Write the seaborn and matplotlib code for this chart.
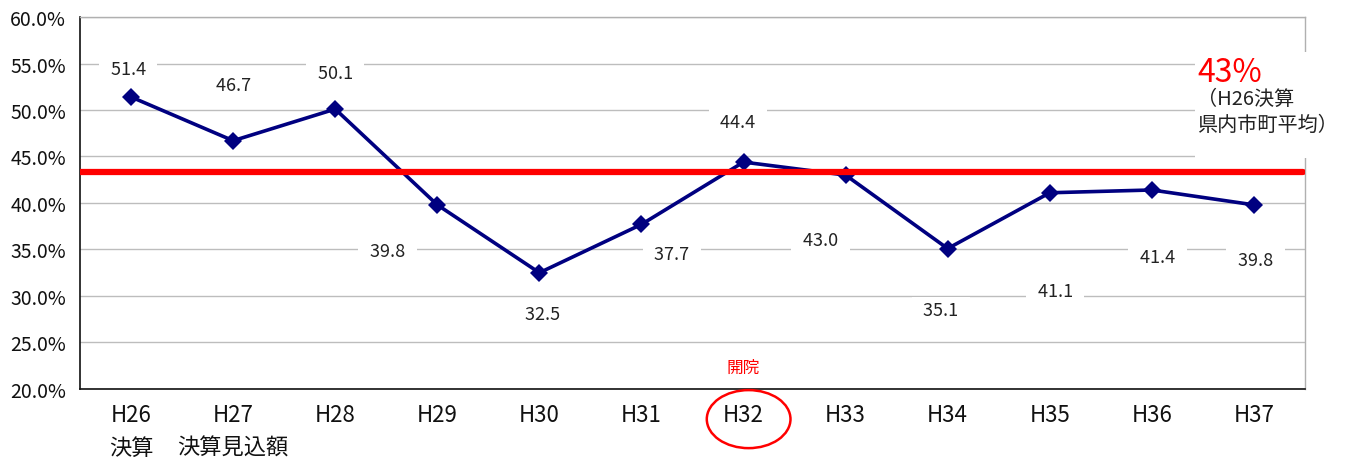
"""Recreation of the ratio trend chart (H26-H37)."""

import matplotlib
matplotlib.use("Agg")
import matplotlib.pyplot as plt
import matplotlib.transforms as mtransforms
from matplotlib.patches import Ellipse, Rectangle
from matplotlib.ticker import FuncFormatter, FixedLocator
import pandas as pd
import seaborn as sns

# data
years = ["H26", "H27", "H28", "H29", "H30", "H31",
         "H32", "H33", "H34", "H35", "H36", "H37"]
sublabels = ["決算", "決算見込額", "", "", "", "", "", "", "", "", "", ""]
ratios = [51.4, 46.7, 50.1, 39.8, 32.5, 37.7, 44.4, 43.0, 35.1, 41.1, 41.4, 39.8]
avg_ratio = 43.3
avg_label = "43%"
avg_note = ["（H26決算", "県内市町平均）"]
open_year = "H32"
open_note = "開院"

# label offsets (points) picked to match the source layout
label_offsets = [(-2, 20), (0, 40), (0, 26), (-36, -33), (2, -30), (22, -21),
                 (-4, 29), (-18, -47), (-5, -44), (4, -71), (4, -48), (1, -40)]

sns.set_theme(style="white")
plt.rcParams["font.family"] = ["Noto Sans CJK JP", "DejaVu Sans"]

df = pd.DataFrame({"year": years, "ratio": ratios})

fig = plt.figure(figsize=(13.52, 4.64), dpi=100)
ax = fig.add_axes([0.0592, 0.1595, 0.906, 0.8017])

ax.yaxis.grid(True, color="#bdbdbd", linewidth=1.0)
ax.set_axisbelow(True)

sns.lineplot(data=df, x="year", y="ratio", ax=ax, color="#000080",
             linewidth=2.6, marker="D", markersize=9, markeredgewidth=0,
             sort=False, zorder=3)

# prefectural average line
ax.axhline(avg_ratio, xmin=0, xmax=0.998, color="#ff0000", linewidth=4.5, zorder=5)

ax.set_xlim(-0.5, len(years) - 0.5)
ax.set_ylim(20, 60)
ax.yaxis.set_major_locator(FixedLocator([20, 25, 30, 35, 40, 45, 50, 55, 60]))
ax.yaxis.set_major_formatter(FuncFormatter(lambda v, p: f"{v:.1f}%"))
ax.tick_params(axis="y", labelsize=14, length=0, pad=10, colors="#111111")

ax.set_xticks(range(len(years)))
ax.set_xticklabels([y if not s else f"{y}\n{s}" for y, s in zip(years, sublabels)],
                   fontsize=16, linespacing=1.55, va="top")
ax.tick_params(axis="x", which="major", length=0, pad=10, colors="#111111")
ax.set_xticks([i + 0.5 for i in range(len(years) - 1)], minor=True)
ax.tick_params(axis="x", which="minor", direction="in", length=5,
               color="#aaaaaa", width=1)
ax.set_xlabel("")
ax.set_ylabel("")

for side in ["top", "right"]:
    ax.spines[side].set_color("#b0b0b0")
    ax.spines[side].set_linewidth(1.0)
for side in ["left", "bottom"]:
    ax.spines[side].set_color("#111111")
    ax.spines[side].set_linewidth(1.2)

# data labels with white boxes that hide the grid
for i, (v, off) in enumerate(zip(ratios, label_offsets)):
    ax.annotate(f"  {v:.1f}  ", xy=(i, v), xytext=off, textcoords="offset points",
                ha="center", va="center", fontsize=13, color="#222222",
                bbox=dict(boxstyle="square,pad=0.2", fc="white", ec="none"),
                zorder=2)

# average note box
ax.add_patch(Rectangle((0.91, 0.62), 0.125, 0.285, transform=ax.transAxes,
                       facecolor="white", edgecolor="none", clip_on=False, zorder=6))
ax.text(0.912, 0.852, avg_label, transform=ax.transAxes, color="#ff0000",
        fontsize=23, ha="left", va="center", zorder=7)
ax.text(0.912, 0.78, avg_note[0], transform=ax.transAxes, color="#222222",
        fontsize=14.5, ha="left", va="center", zorder=7)
ax.text(0.912, 0.71, avg_note[1], transform=ax.transAxes, color="#222222",
        fontsize=14.5, ha="left", va="center", zorder=7)

# opening year marker
idx = years.index(open_year)
blend = mtransforms.blended_transform_factory(ax.transData, ax.transAxes)
ax.text(idx, 0.059, open_note, transform=blend, color="#ff0000", fontsize=12,
        ha="center", va="center")
ax.add_patch(Ellipse((idx + 0.05, -0.081), 0.82, 0.156, transform=blend,
                     facecolor="none", edgecolor="#ff0000", linewidth=1.8,
                     clip_on=False, zorder=6))

fig.savefig("out.png", dpi=100)
